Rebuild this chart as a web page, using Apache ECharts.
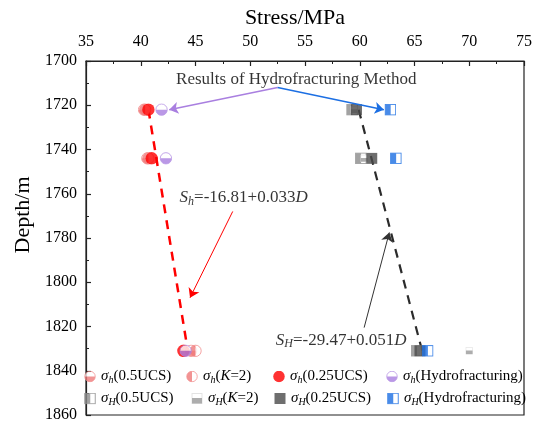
<!DOCTYPE html>
<html>
<head>
<meta charset="utf-8">
<script src="https://cdn.jsdelivr.net/npm/echarts@6/dist/echarts.min.js"></script>
<style>
  html, body { margin: 0; padding: 0; background: #fff; }
  #chart { width: 535px; height: 425px; }
</style>
</head>
<body>
<div id="chart"></div>
<script>
// Depths of the measuring points (m)
const depths = [1722, 1744, 1831];

// Minimum horizontal principal stress estimates (MPa)
const shHalfUCS = [40.3, 40.6, 44.6];
const shK2 = [40.4, 40.7, 45.0];
const sh025UCS = [40.7, 41.0, 43.9];
const shHydro = [41.9, 42.3, 44.1];

// Maximum horizontal principal stress estimates (MPa)
const sHHalfUCS = [59.3, 60.1, 65.2];
const sHK2 = [59.5, 60.4, 70.0];
const sH025UCS = [59.7, 61.1, 65.5];
const sHHydro = [62.8, 63.3, 66.2];

// Linear trends: [stress, depth] end points
const shTrend = [[40.7, 1722], [44.3, 1831]];
const sHTrend = [[59.9, 1722], [65.7, 1831]];

// Annotation arrows: [from, to] in [stress, depth]
const hydroArrowH = [[52.5, 1712], [42.6, 1722]];
const hydroArrowHH = [[52.5, 1712], [62.2, 1722]];
const shArrow = [[48.4, 1768], [44.5, 1807]];
const sHArrow = [[60.4, 1820.5], [62.7, 1777.5]];

// Annotation texts anchored at [stress, depth]
const noteTitle = { text: 'Results of Hydrofracturing Method', at: [54.2, 1708.6] };
const noteSh = { at: [49.4, 1761.9] };
const noteSH = { at: [58.3, 1826.2] };

const xTicks = { min: 35, max: 75, step: 5 };
const yTicks = { min: 1700, max: 1860, step: 20 };

const SERIF = "'Liberation Serif', 'Times New Roman', serif";
const RED = '#FF0000', PINK = '#F07A7A', PURPLE = '#A97FE0', BLUE = '#1C6FE3';
const DARK = '#4A4A4A', GRAY = '#8C8C8C';

function svgSymbol(body) {
  const svg = '<svg xmlns="http://www.w3.org/2000/svg" width="24" height="24" viewBox="0 0 24 24">' + body + '</svg>';
  return 'image://data:image/svg+xml;base64,' + btoa(svg);
}
function circleHalf(color, half) {
  let path = '';
  if (half === 'bottom') path = '<path d="M1.5 12 A10.5 10.5 0 0 0 22.5 12 Z" fill="' + color + '"/>';
  if (half === 'left') path = '<path d="M12 1.5 A10.5 10.5 0 0 0 12 22.5 Z" fill="' + color + '"/>';
  return svgSymbol('<circle cx="12" cy="12" r="10.5" fill="#fff"/>' + path +
    '<circle cx="12" cy="12" r="10.5" fill="none" stroke="' + color + '" stroke-width="1.6"/>');
}
function circleFull(color) {
  return svgSymbol('<circle cx="12" cy="12" r="11.5" fill="' + color + '"/>');
}
function squareHalf(color) {
  return svgSymbol('<rect x="1.5" y="1.5" width="21" height="21" fill="#fff"/>' +
    '<rect x="1.5" y="1.5" width="11" height="21" fill="' + color + '"/>' +
    '<rect x="1.5" y="1.5" width="21" height="21" fill="none" stroke="' + color + '" stroke-width="2"/>');
}
function squareFull(color) {
  return svgSymbol('<rect x="1" y="1" width="22" height="22" fill="' + color + '"/>');
}
function squareSmall(color) {
  return svgSymbol('<rect x="2" y="2" width="20" height="20" fill="#fff" stroke="#ddd" stroke-width="2"/>' +
    '<rect x="2" y="11" width="20" height="11" fill="' + color + '"/>');
}

const seriesDefs = [
  { name: 'sh05', label: '{g|σ}{sub|h}{t|(0.5UCS)}', values: shHalfUCS, symbol: circleHalf(PINK, 'bottom'), size: 13 },
  { name: 'shK2', label: '{g|σ}{sub|h}{t|(}{i|K}{t|=2)}', values: shK2, symbol: circleHalf(PINK, 'left'), size: 13 },
  { name: 'sh025', label: '{g|σ}{sub|h}{t|(0.25UCS)}', values: sh025UCS, symbol: circleFull(RED), size: 13 },
  { name: 'shHF', label: '{g|σ}{sub|h}{t|(Hydrofracturing)}', values: shHydro, symbol: circleHalf(PURPLE, 'bottom'), size: 13 },
  { name: 'sH05', label: '{g|σ}{sub|H}{t|(0.5UCS)}', values: sHHalfUCS, symbol: squareHalf(GRAY), size: 12 },
  { name: 'sHK2', label: '{g|σ}{sub|H}{t|(}{i|K}{t|=2)}', values: sHK2, symbol: squareSmall('#999'), size: 8 },
  { name: 'sH025', label: '{g|σ}{sub|H}{t|(0.25UCS)}', values: sH025UCS, symbol: squareFull(DARK), size: 12 },
  { name: 'sHHF', label: '{g|σ}{sub|H}{t|(Hydrofracturing)}', values: sHHydro, symbol: squareHalf(BLUE), size: 12 }
];

const legendPos = [
  [84, 369], [186, 369], [273, 369], [386, 369],
  [84, 391], [191, 391], [274, 391], [387, 391]
];

const rich = {
  g: { fontFamily: SERIF, fontSize: 15, fontStyle: 'italic', color: '#000', lineHeight: 18 },
  i: { fontFamily: SERIF, fontSize: 15, fontStyle: 'italic', color: '#000', lineHeight: 18 },
  t: { fontFamily: SERIF, fontSize: 15, color: '#000', lineHeight: 18 },
  sub: { fontFamily: SERIF, fontSize: 10, fontStyle: 'italic', color: '#000', verticalAlign: 'bottom', lineHeight: 10 }
};
const richEq = {
  s: { fontFamily: SERIF, fontSize: 17, fontStyle: 'italic', color: '#000', lineHeight: 20 },
  t: { fontFamily: SERIF, fontSize: 17, color: '#000', lineHeight: 20 },
  sub: { fontFamily: SERIF, fontSize: 12, fontStyle: 'italic', color: '#000', verticalAlign: 'bottom', lineHeight: 12 }
};

const legends = seriesDefs.map((d, k) => ({
  data: [{ name: d.name, icon: d.symbol }],
  left: legendPos[k][0], top: legendPos[k][1],
  itemWidth: 12, itemHeight: 12, itemGap: 0, padding: 0,
  selectedMode: false,
  formatter: () => d.label,
  textStyle: { rich: rich, padding: [0, 0, 0, 0] }
}));

const scatterSeries = seriesDefs.map(d => ({
  name: d.name,
  type: 'scatter',
  symbol: d.symbol,
  symbolSize: d.size,
  z: 5,
  data: d.values.map((v, k) => [v, depths[k]])
}));

function arrowSeries(coords, color, width) {
  return {
    type: 'lines', coordinateSystem: 'cartesian2d', silent: true, z: 6,
    symbol: ['none', 'arrow'], symbolSize: [0, 9],
    lineStyle: { color: color, width: width, opacity: 1 },
    data: [{ coords: coords }]
  };
}
function noteSeries(at, html, richStyle) {
  return {
    type: 'scatter', silent: true, symbolSize: 0, z: 7,
    data: [at],
    label: { show: true, position: 'inside', formatter: () => html, rich: richStyle }
  };
}

const option = {
  animation: false,
  backgroundColor: '#fff',
  grid: { left: 86, right: 10, top: 61, bottom: 10, show: true, borderColor: '#222', borderWidth: 1.2 },
  legend: legends,
  xAxis: {
    type: 'value', position: 'top',
    min: xTicks.min, max: xTicks.max, interval: xTicks.step,
    name: 'Stress/MPa', nameLocation: 'middle', nameGap: 32,
    nameTextStyle: { fontFamily: SERIF, fontSize: 22, color: '#000', padding: [0, 20, 0, 0] },
    axisLine: { show: true, lineStyle: { color: '#222', width: 1.2 } },
    axisTick: { show: true, inside: true, length: 5, lineStyle: { color: '#222', width: 1.2 } },
    minorTick: { show: true, splitNumber: 2, length: 3, lineStyle: { color: '#222', width: 1 } },
    splitLine: { show: false },
    axisLabel: { fontFamily: SERIF, fontSize: 16, color: '#000', margin: 11 }
  },
  yAxis: {
    type: 'value', inverse: true,
    min: yTicks.min, max: yTicks.max, interval: yTicks.step,
    name: 'Depth/m', nameLocation: 'middle', nameGap: 45, nameRotate: 90,
    nameTextStyle: { fontFamily: SERIF, fontSize: 22, color: '#000', padding: [0, 0, 0, 46] },
    axisLine: { show: true, lineStyle: { color: '#222', width: 1.2 } },
    axisTick: { show: true, inside: true, length: 5, lineStyle: { color: '#222', width: 1.2 } },
    minorTick: { show: true, splitNumber: 2, length: 3, lineStyle: { color: '#222', width: 1 } },
    splitLine: { show: false },
    axisLabel: { fontFamily: SERIF, fontSize: 16, color: '#000', margin: 9, formatter: v => String(v) }
  },
  series: [
    {
      type: 'line', silent: true, symbol: 'none', z: 3,
      lineStyle: { color: RED, width: 2.5, type: [9, 7] },
      data: shTrend
    },
    {
      type: 'line', silent: true, symbol: 'none', z: 3,
      lineStyle: { color: '#2b2b2b', width: 2.2, type: [9, 7] },
      data: sHTrend
    },
    ...scatterSeries,
    arrowSeries(hydroArrowH, PURPLE, 1.5),
    arrowSeries(hydroArrowHH, BLUE, 1.5),
    arrowSeries(shArrow, RED, 1),
    arrowSeries(sHArrow, '#333', 1),
    noteSeries(noteTitle.at, '{t|' + noteTitle.text + '}',
      { t: { fontFamily: SERIF, fontSize: 17, color: '#000' } }),
    noteSeries(noteSh.at, '{s|S}{sub|h}{t|=-16.81+0.033}{s|D}', richEq),
    noteSeries(noteSH.at, '{s|S}{sub|H}{t|=-29.47+0.051}{s|D}', richEq)
  ]
};

const chart = echarts.init(document.getElementById('chart'), null, { renderer: 'canvas' });
chart.setOption(option);
</script>
</body>
</html>
